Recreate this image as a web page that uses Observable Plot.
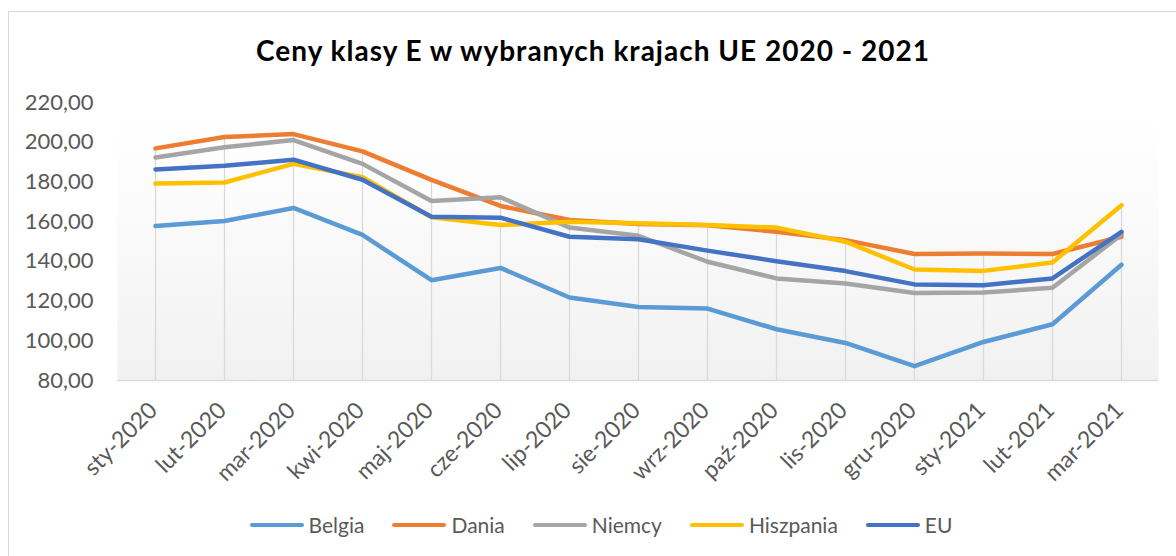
<!DOCTYPE html>
<html>
<head>
<meta charset="utf-8">
<script src="https://cdn.jsdelivr.net/npm/d3@7"></script>
<script src="https://cdn.jsdelivr.net/npm/@observablehq/plot@0.6"></script>
<style>
  html, body { margin: 0; padding: 0; background: #fff; overflow: hidden; }
  #wrap { position: relative; width: 1176px; height: 556px; overflow: hidden; font-family: Lato, "Open Sans", sans-serif; }
  #frame { position: absolute; left: 8px; top: 11px; width: 1300px; height: 700px; border: 1.5px solid #d9d9d9; box-sizing: border-box; }
  #title { position: absolute; left: 0; top: 30px; width: 1176px; text-align: center; font-weight: bold; font-size: 28px; letter-spacing: 1px; line-height: 40px; color: #000; padding-left: 10px; box-sizing: border-box; }
  #chart { position: absolute; left: 0; top: 80px; }
  #legend { position: absolute; left: 0; top: 512px; width: 1176px; display: flex; justify-content: center; align-items: center; gap: 28px; font-size: 21px; color: #595959; padding-left: 26px; box-sizing: border-box; }
  .item { display: flex; align-items: center; gap: 5px; }
  .sw { width: 54px; height: 4px; border-radius: 2px; }
</style>
</head>
<body>
<div id="wrap">
  <div id="frame"></div>
  <div id="title">Ceny klasy E w wybranych krajach UE 2020 - 2021</div>
  <div id="chart"></div>
  <div id="legend"></div>
</div>
<script>
const months = ["sty-2020","lut-2020","mar-2020","kwi-2020","maj-2020","cze-2020","lip-2020","sie-2020","wrz-2020","paź-2020","lis-2020","gru-2020","sty-2021","lut-2021","mar-2021"];
const belgia    = [157.8,160.3,166.9,153.3,130.5,136.7,121.8,117.0,116.2,105.8,98.9,87.2,99.4,108.3,138.3];
const dania     = [196.9,202.6,204.1,195.4,181.0,167.9,160.8,158.8,158.2,154.9,150.7,143.7,143.9,143.7,152.4];
const niemcy    = [192.3,197.5,201.1,189.1,170.4,172.3,157.0,152.9,139.8,131.4,128.8,124.1,124.3,126.7,153.5];
const hiszpania = [179.2,179.7,189.1,182.4,162.2,158.3,160.0,159.2,158.3,157.0,149.9,135.9,135.2,139.4,168.3];
const eu        = [186.3,188.1,191.2,181.1,162.5,162.0,152.4,151.1,145.4,140.1,135.1,128.4,128.0,131.4,154.9];
const seriesNames = ["Belgia","Dania","Niemcy","Hiszpania","EU"];
const seriesColors = ["#5B9BD5","#ED7D31","#A5A5A5","#FFC000","#4472C4"];
const yTicks = [80,100,120,140,160,180,200,220];

const allSeries = [belgia, dania, niemcy, hiszpania, eu];
const rows = [];
allSeries.forEach((vals, s) => vals.forEach((v, i) => rows.push({series: seriesNames[s], month: months[i], value: v})));
const tops = months.map((m, i) => ({month: m, top: Math.max(...allSeries.map(a => a[i]))}));

const fmt = d => d.toFixed(2).replace(".", ",");

const plot = Plot.plot({
  width: 1176,
  height: 400,
  marginTop: 22,
  marginBottom: 100,
  marginLeft: 117,
  marginRight: 18,
  style: {fontFamily: "Lato, 'Open Sans', sans-serif", background: "transparent", color: "#595959", overflow: "visible"},
  x: {type: "point", domain: months, padding: 0.5, label: null},
  y: {domain: [80, 220], label: null},
  color: {domain: seriesNames, range: seriesColors},
  marks: [
    Plot.frame({fill: "url(#bggrad)", stroke: "none"}),
    Plot.ruleX(tops, {x: "month", y1: 80, y2: "top", stroke: "#d9d9d9", strokeWidth: 1.3}),
    Plot.ruleY([80], {stroke: "#d9d9d9", strokeWidth: 1.5}),
    Plot.axisY({ticks: yTicks, tickFormat: fmt, tickSize: 0, tickPadding: 24, fontSize: 22, fill: "#595959", label: null}),
    Plot.axisX({tickRotate: -45, tickSize: 0, tickPadding: 21, fontSize: 23, fill: "#595959", label: null, dx: -2, dy: 5}),
    Plot.line(rows, {x: "month", y: "value", z: "series", stroke: "series", strokeWidth: 4.5, strokeLinejoin: "round", strokeLinecap: "round"})
  ]
});

// gradient for plot-area background
const defs = document.createElementNS("http://www.w3.org/2000/svg", "defs");
defs.innerHTML = '<linearGradient id="bggrad" x1="0" y1="0" x2="0" y2="1"><stop offset="0" stop-color="#ffffff"/><stop offset="0.25" stop-color="#fdfdfd"/><stop offset="1" stop-color="#f1f1f1"/></linearGradient>';
plot.insertBefore(defs, plot.firstChild);
document.getElementById("chart").appendChild(plot);

const legend = document.getElementById("legend");
seriesNames.forEach((n, i) => {
  const it = document.createElement("div");
  it.className = "item";
  it.innerHTML = `<span class="sw" style="background:${seriesColors[i]}"></span><span>${n}</span>`;
  legend.appendChild(it);
});
</script>
</body>
</html>
